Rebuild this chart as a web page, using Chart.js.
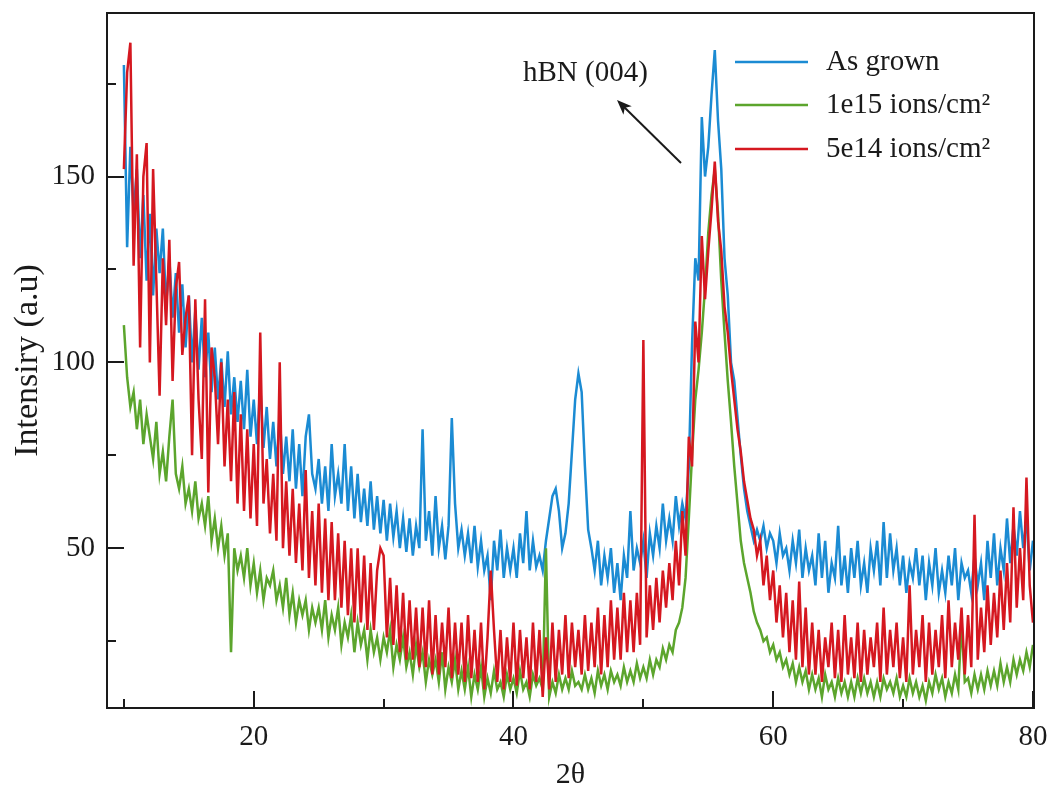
<!DOCTYPE html>
<html><head><meta charset="utf-8">
<script src="https://cdn.jsdelivr.net/npm/chart.js@4.4.1/dist/chart.umd.min.js"></script>
<style>html,body{margin:0;padding:0;background:#fff}#wrap{width:1052px;height:793px;position:relative}</style>
</head><body><div id="wrap"><canvas id="c" width="1052" height="793"></canvas></div>
<script>
const twoTheta = [
10,10.25,10.5,10.75,11,11.25,11.5,11.75,12,12.25,12.5,12.75,13,13.25,13.5,13.75,14,14.25,14.5,14.75,
15,15.25,15.5,15.75,16,16.25,16.5,16.75,17,17.25,17.5,17.75,18,18.25,18.5,18.75,19,19.25,19.5,19.75,
20,20.25,20.5,20.75,21,21.25,21.5,21.75,22,22.25,22.5,22.75,23,23.25,23.5,23.75,24,24.25,24.5,24.75,
25,25.25,25.5,25.75,26,26.25,26.5,26.75,27,27.25,27.5,27.75,28,28.25,28.5,28.75,29,29.25,29.5,29.75,
30,30.25,30.5,30.75,31,31.25,31.5,31.75,32,32.25,32.5,32.75,33,33.25,33.5,33.75,34,34.25,34.5,34.75,
35,35.25,35.5,35.75,36,36.25,36.5,36.75,37,37.25,37.5,37.75,38,38.25,38.5,38.75,39,39.25,39.5,39.75,
40,40.25,40.5,40.75,41,41.25,41.5,41.75,42,42.25,42.5,42.75,43,43.25,43.5,43.75,44,44.25,44.5,44.75,
45,45.25,45.5,45.75,46,46.25,46.5,46.75,47,47.25,47.5,47.75,48,48.25,48.5,48.75,49,49.25,49.5,49.75,
50,50.25,50.5,50.75,51,51.25,51.5,51.75,52,52.25,52.5,52.75,53,53.25,53.5,53.75,54,54.25,54.5,54.75,
55,55.25,55.5,55.75,56,56.25,56.5,56.75,57,57.25,57.5,57.75,58,58.25,58.5,58.75,59,59.25,59.5,59.75,
60,60.25,60.5,60.75,61,61.25,61.5,61.75,62,62.25,62.5,62.75,63,63.25,63.5,63.75,64,64.25,64.5,64.75,
65,65.25,65.5,65.75,66,66.25,66.5,66.75,67,67.25,67.5,67.75,68,68.25,68.5,68.75,69,69.25,69.5,69.75,
70,70.25,70.5,70.75,71,71.25,71.5,71.75,72,72.25,72.5,72.75,73,73.25,73.5,73.75,74,74.25,74.5,74.75,
75,75.25,75.5,75.75,76,76.25,76.5,76.75,77,77.25,77.5,77.75,78,78.25,78.5,78.75,79,79.25,79.5,79.75,
80];

const asGrown = [
180,131,158,140, 152,128,145,122, 140,118,136,124, 136,115,128,112, 124,108,121,104,
118,100,114,98, 112,96,108,92, 104,90,101,88, 103,86,96,84, 95,82,98,80,
90,78,94,77, 88,74,84,72, 86,70,80,68, 82,66,78,64, 80,86,70,66,
74,62,72,60, 78,64,70,62, 78,60,72,58, 70,57,66,56, 68,55,64,54,
63,52,62,53, 60,50,58,49, 58,48,56,50, 82,52,60,48, 64,50,56,47,
56,85,62,50, 55,48,54,46, 56,45,52,44, 48,36,52,44, 55,42,50,44,
50,42,54,46, 60,44,52,45, 48,44,52,58, 64,66,60,50, 54,62,76,90,
97,92,72,55, 50,44,52,40, 48,42,50,38, 46,36,48,42, 60,44,50,46,
52,42,54,48, 56,50,62,52, 58,52,64,56, 62,58,72,105, 128,122,166,150,
158,172,184,165, 152,128,118,100, 95,85,75,66, 60,56,52,55, 52,56,50,54,
52,46,54,48, 50,44,52,46, 55,42,50,44, 48,40,54,42, 52,38,46,42,
56,40,48,38, 50,42,52,40, 46,38,50,44, 52,40,57,42, 54,44,50,40,
48,38,46,42, 50,40,48,36, 46,40,50,38, 44,38,48,40, 50,36,46,42,
44,38,48,40, 46,36,52,42, 54,40,50,44, 58,46,56,48, 60,50,58,44,
52];

const ions1e15 = [
110,96,88,92, 82,90,78,86, 80,74,84,70, 76,68,80,90, 70,66,72,62,
66,60,68,58, 62,56,64,52, 58,50,56,48, 54,22,50,44, 48,42,50,40,
46,38,44,36, 42,40,44,36, 40,34,42,32, 38,30,36,32, 36,28,34,30,
34,28,36,26, 32,28,34,24, 30,26,32,22, 30,24,28,20, 28,22,26,20,
26,22,28,18, 24,20,26,18, 22,16,24,18, 22,14,20,16, 20,14,22,12,
18,14,20,12, 17,12,18,10, 16,12,18,10, 15,11,17,12, 14,10,16,12,
15,11,17,12, 14,10,16,13, 15,12,50,10, 14,11,16,12, 15,12,17,13,
14,12,16,12, 15,11,17,13, 16,12,17,14, 16,13,18,14, 17,14,19,15,
18,15,20,16, 20,18,23,20, 24,22,28,30, 34,42,58,75, 90,98,108,120,
135,145,152,140, 122,108,95,84, 72,62,52,46, 42,38,33,30, 28,25,26,22,
24,20,22,18, 20,16,19,14, 18,14,17,12, 16,12,15,10, 16,12,14,10,
15,11,14,10, 14,10,15,11, 15,11,14,10, 14,10,15,12, 14,11,15,10,
13,10,15,11, 14,10,13,9, 14,11,16,12, 15,10,14,11, 16,12,30,14,
15,11,16,12, 16,12,17,13, 17,13,19,14, 18,14,20,16, 20,17,22,18,
24];

const ions5e14 = [
152,178,186,126, 156,104,150,159, 100,152,122,91, 128,110,133,95, 120,127,102,112,
118,75,117,90, 74,117,65,104, 96,78,100,72, 90,68,92,62, 86,60,82,58,
78,56,108,62, 74,54,70,52, 100,50,68,48, 66,46,62,44, 71,42,60,40,
62,38,58,36, 57,36,54,34, 52,32,50,30, 50,30,48,28, 46,28,44,50,
48,26,42,24, 40,22,38,20, 36,20,34,18, 34,18,36,16, 32,16,30,18,
34,15,30,16, 30,14,32,15, 28,14,30,12, 26,44,28,14, 28,12,26,14,
30,13,28,15, 26,12,30,14, 28,10,26,12, 30,14,28,16, 32,15,30,18,
28,16,32,17, 30,18,34,16, 32,18,36,20, 34,20,38,22, 36,22,38,24,
106,26,40,28, 42,30,44,34, 46,36,52,40, 60,48,80,72, 111,100,134,117,
130,141,154,138, 130,115,108,98, 90,82,76,68, 63,58,55,48, 52,40,48,36,
44,30,40,26, 38,22,36,20, 41,18,34,16, 30,16,28,14, 26,18,30,15,
28,14,32,16, 26,15,30,14, 28,16,26,18, 30,14,34,16, 28,18,30,15,
26,14,40,16, 28,18,32,14, 30,16,28,18, 32,15,36,18, 30,20,34,16,
32,18,59,20, 34,22,40,24, 38,26,44,28, 46,30,61,34, 50,36,69,40,
30];

const seriesLabels = ['As grown', '1e15 ions/cm\u00B2', '5e14 ions/cm\u00B2'];
const seriesColors = ['#1b8bd3', '#5ca52d', '#d51820'];
const xMajorTicks = [20, 40, 60, 80];
const xMinorTicks = [10, 30, 50, 70];
const yMajorTicks = [50, 100, 150];
const yMinorTicks = [25, 75, 125, 175];
const xTitle = '2\u03B8';
const yTitle = 'Intensiry (a.u)';
const peakLabel = 'hBN (004)';

const FONT = '"Liberation Serif", "Times New Roman", serif';

function pts(ys){ return twoTheta.map((x,i)=>({x:x, y:ys[i]})); }

const decor = {
  id: 'decor',
  afterDraw(chart){
    const {ctx, chartArea:a, scales:{x, y}} = chart;
    ctx.save();
    ctx.strokeStyle = '#1a1a1a';
    ctx.lineWidth = 2;
    ctx.strokeRect(a.left, a.top, a.right - a.left, a.bottom - a.top);
    ctx.beginPath();
    xMajorTicks.forEach(v=>{const p=Math.round(x.getPixelForValue(v)); ctx.moveTo(p,a.bottom); ctx.lineTo(p,a.bottom-17);});
    xMinorTicks.forEach(v=>{const p=Math.round(x.getPixelForValue(v)); ctx.moveTo(p,a.bottom); ctx.lineTo(p,a.bottom-9);});
    yMajorTicks.forEach(v=>{const p=Math.round(y.getPixelForValue(v)); ctx.moveTo(a.left,p); ctx.lineTo(a.left+17,p);});
    yMinorTicks.forEach(v=>{const p=Math.round(y.getPixelForValue(v)); ctx.moveTo(a.left,p); ctx.lineTo(a.left+9,p);});
    ctx.stroke();

    // legend
    const legendOrder = [0,1,2];
    const ly = [62, 105, 149];
    ctx.font = '29px ' + FONT;
    ctx.textBaseline = 'middle';
    ctx.textAlign = 'left';
    legendOrder.forEach((di,k)=>{
      const ds = chart.data.datasets.find(d=>d.key===di);
      ctx.strokeStyle = ds.borderColor;
      ctx.lineWidth = 2.5;
      ctx.beginPath(); ctx.moveTo(735, ly[k]); ctx.lineTo(808, ly[k]); ctx.stroke();
      ctx.fillStyle = '#1a1a1a';
      ctx.fillText(ds.label, 826, ly[k]);
    });

    // annotation
    ctx.fillStyle = '#1a1a1a';
    ctx.font = '29px ' + FONT;
    ctx.fillText(peakLabel, 523, 73);
    ctx.strokeStyle = '#1a1a1a';
    ctx.lineWidth = 2;
    const x1 = 681, y1 = 163, x2 = 617, y2 = 100;
    ctx.beginPath(); ctx.moveTo(x1,y1); ctx.lineTo(x2+4,y2+4); ctx.stroke();
    const ang = Math.atan2(y2-y1, x2-x1);
    ctx.beginPath();
    ctx.moveTo(x2, y2);
    ctx.lineTo(x2 - 16*Math.cos(ang-0.38), y2 - 16*Math.sin(ang-0.38));
    ctx.lineTo(x2 - 11*Math.cos(ang), y2 - 11*Math.sin(ang));
    ctx.lineTo(x2 - 16*Math.cos(ang+0.38), y2 - 16*Math.sin(ang+0.38));
    ctx.closePath(); ctx.fill();
    ctx.restore();
  }
};

new Chart(document.getElementById('c'), {
  type: 'scatter',
  data: {
    datasets: [
      {key:0, label: seriesLabels[0], data: pts(asGrown), borderColor: seriesColors[0], order: 2},
      {key:1, label: seriesLabels[1], data: pts(ions1e15), borderColor: seriesColors[1], order: 1},
      {key:2, label: seriesLabels[2], data: pts(ions5e14), borderColor: seriesColors[2], order: 0}
    ].map(d=>Object.assign(d,{showLine:true, pointRadius:0, borderWidth:2.5, tension:0, backgroundColor:d.borderColor}))
  },
  options: {
    responsive: false,
    animation: false,
    devicePixelRatio: 1,
    layout: {padding: {left: 0, top: 13, right: 18, bottom: 0}},
    plugins: {legend: {display: false}, tooltip: {enabled: false}},
    scales: {
      x: {
        type: 'linear', min: 8.7, max: 80.08,
        grid: {display: false, drawTicks: false},
        border: {display: false},
        ticks: {stepSize: 20, includeBounds: false, color: '#1a1a1a', font: {family: FONT, size: 29}, padding: 12, maxRotation: 0},
        title: {display: true, text: xTitle, color: '#1a1a1a', font: {family: FONT, size: 30}, padding: {top: 0, bottom: 0}},
        afterFit(s){ s.height = 85; s.paddingLeft = 0; s.paddingRight = 0; }
      },
      y: {
        type: 'linear', min: 7, max: 194,
        grid: {display: false, drawTicks: false},
        border: {display: false},
        ticks: {stepSize: 50, includeBounds: false, color: '#1a1a1a', font: {family: FONT, size: 29}, padding: 12},
        title: {display: true, text: yTitle, color: '#1a1a1a', font: {family: FONT, size: 34}, padding: {top: 8, bottom: 0}},
        afterFit(s){ s.width = 107; s.paddingTop = 0; s.paddingBottom = 0; }
      }
    }
  },
  plugins: [decor]
});
</script></body></html>
